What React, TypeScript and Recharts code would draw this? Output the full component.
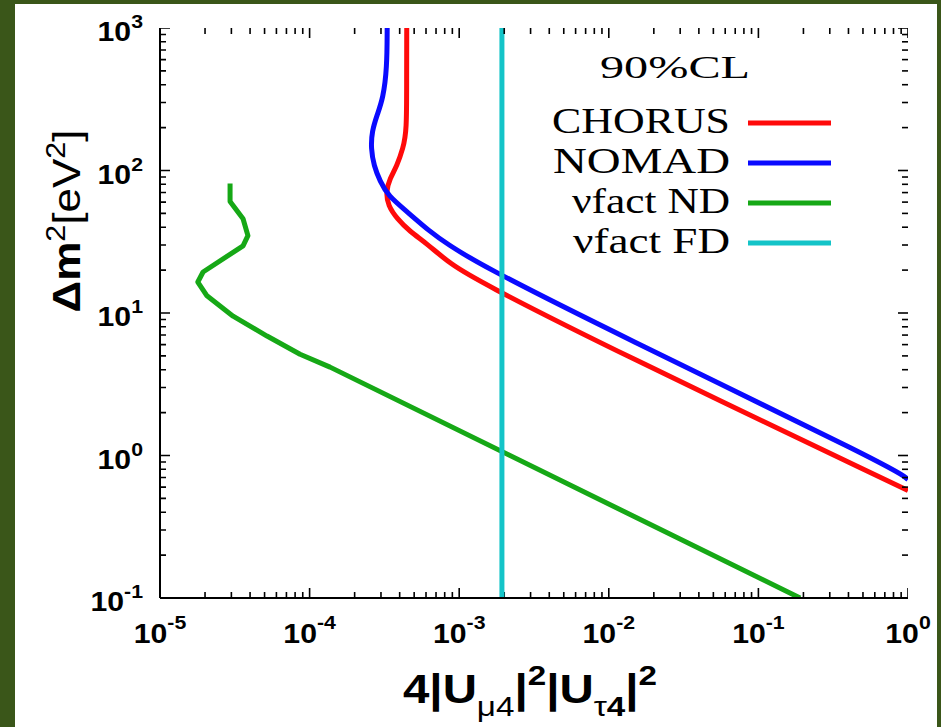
import React from 'react';
import { ComposedChart, Line, Scatter, XAxis, YAxis, Legend } from 'recharts';

// ---- tick definitions ----
const xMajor = [1e-5, 1e-4, 1e-3, 1e-2, 1e-1, 1];
const xMajorLabels = ['-5', '-4', '-3', '-2', '-1', '0'];
const yMajor = [1e-1, 1, 10, 100, 1000];
const yMajorLabels = ['-1', '0', '1', '2', '3'];
const minorMultipliers = [2, 3, 4, 5, 6, 7, 8, 9];

// ---- series ----
const chorus = [
  { x: 4.46e-4, y: 1000 },
  { x: 4.45e-4, y: 445 },
  { x: 4.46e-4, y: 188 },
  { x: 4.21e-4, y: 143 },
  { x: 3.84e-4, y: 108 },
  { x: 3.44e-4, y: 87.9 },
  { x: 3.24e-4, y: 71.1 },
  { x: 3.34e-4, y: 56.8 },
  { x: 3.84e-4, y: 45.9 },
  { x: 4.69e-4, y: 37.2 },
  { x: 6.1e-4, y: 30.6 },
  { x: 8.69e-4, y: 22.1 },
  { x: 1.38e-3, y: 16.5 },
  { x: 1.0e-2, y: 5.7 },
  { x: 1.0, y: 0.568 },
];

const nomad = [
  { x: 3.3e-4, y: 1000 },
  { x: 3.29e-4, y: 523 },
  { x: 3.1e-4, y: 321 },
  { x: 2.82e-4, y: 244 },
  { x: 2.61e-4, y: 188 },
  { x: 2.57e-4, y: 143 },
  { x: 2.69e-4, y: 108 },
  { x: 2.96e-4, y: 83.8 },
  { x: 3.34e-4, y: 66.7 },
  { x: 4.48e-4, y: 51.4 },
  { x: 6.38e-4, y: 37.2 },
  { x: 8.28e-4, y: 30.6 },
  { x: 1.38e-3, y: 21.8 },
  { x: 1.0e-2, y: 7.6 },
  { x: 0.818, y: 0.81 },
  { x: 1.0, y: 0.678 },
];

const vfactND = [
  { x: 2.94e-5, y: 81 },
  { x: 2.94e-5, y: 60.5 },
  { x: 3.59e-5, y: 45.9 },
  { x: 3.87e-5, y: 34.9 },
  { x: 3.59e-5, y: 29.6 },
  { x: 1.94e-5, y: 19.4 },
  { x: 1.79e-5, y: 16.5 },
  { x: 2.06e-5, y: 13.2 },
  { x: 3.08e-5, y: 9.5 },
  { x: 5.19e-5, y: 6.89 },
  { x: 8.63e-5, y: 5.14 },
  { x: 1.37e-4, y: 4.17 },
  { x: 0.19, y: 0.1 },
];

const vfactFD = [
  { x: 1.93e-3, y: 0.1 },
  { x: 1.93e-3, y: 1000 },
];

const seriesNames = ['CHORUS', 'NOMAD', 'νfact ND', 'νfact FD'];
const seriesColors = ['#ff0a0a', '#0a0aff', '#16a816', '#14c4c8'];

// ---- helpers ----
const buildTicks = (major: number[]) =>
  major.flatMap((d, i) => (i < major.length - 1 ? [d, ...minorMultipliers.map((m) => m * d)] : [d]));
const xTicks = buildTicks(xMajor);
const yTicks = buildTicks(yMajor);
const majorIndex = (arr: number[], v: number) =>
  arr.findIndex((m) => Math.abs(Math.log10(m) - Math.log10(v)) < 1e-6);

const xMin = xMajor[0];
const xMax = xMajor[xMajor.length - 1];
const yMin = yMajor[0];
const yMax = yMajor[yMajor.length - 1];

const MINOR = 6;
const MAJOR = 10;
// plot box: 748 px wide over 5 decades, 570 px tall over 4 decades (used only for tick-mark length)
const PX_PER_DEC_X = 748 / 5;
const PX_PER_DEC_Y = 570 / 4;

// top / right tick marks: anchored on the frame, drawn by a Scatter shape
const topMarks = xTicks.map((v) => ({ x: v, y: yMax, major: majorIndex(xMajor, v) >= 0, dir: 'down' }));
const rightMarks = yTicks.map((v) => ({ x: xMax, y: v, major: majorIndex(yMajor, v) >= 0, dir: 'left' }));

// bottom / left tick marks: drawn as a comb path along the frame
const bottomComb = xTicks.flatMap((v) => {
  const len = majorIndex(xMajor, v) >= 0 ? MAJOR : MINOR;
  const yIn = yMin * Math.pow(10, len / PX_PER_DEC_Y);
  return [
    { x: v, y: yMin },
    { x: v, y: yIn },
    { x: v, y: yMin },
  ];
});
const leftComb = yTicks.flatMap((v) => {
  const len = majorIndex(yMajor, v) >= 0 ? MAJOR : MINOR;
  const xIn = xMin * Math.pow(10, len / PX_PER_DEC_X);
  return [
    { x: xMin, y: v },
    { x: xIn, y: v },
    { x: xMin, y: v },
  ];
});

const SANS = "'Liberation Sans', Arial, sans-serif";
const SERIF = "'Liberation Serif', 'Times New Roman', serif";

const TickMark = (props: any) => {
  const { cx, cy, payload } = props;
  const len = payload.major ? MAJOR : MINOR;
  let x2 = cx;
  let y2 = cy;
  if (payload.dir === 'up') y2 = cy - len;
  if (payload.dir === 'down') y2 = cy + len;
  if (payload.dir === 'right') x2 = cx + len;
  if (payload.dir === 'left') x2 = cx - len;
  return <line x1={cx} y1={cy} x2={x2} y2={y2} stroke="#000" strokeWidth={1.6} />;
};

const BottomTick = (props: any) => {
  const x = Number(props.x);
  const ay = Number(props.y);
  const i = majorIndex(xMajor, props.payload.value);
  if (i < 0) return <g />;
  return (
    <g transform={`translate(${x},${ay + 45}) scale(1.12,1)`}>
      <text textAnchor="middle" fontFamily={SANS} fontWeight="bold" fontSize={27} fill="#000" stroke="none">
        <tspan>10</tspan>
        <tspan fontSize={19} dy={-14}>{xMajorLabels[i]}</tspan>
      </text>
    </g>
  );
};

const LeftTick = (props: any) => {
  const ax = Number(props.x);
  const y = Number(props.y);
  const i = majorIndex(yMajor, props.payload.value);
  if (i < 0) return <g />;
  return (
    <g transform={`translate(${ax - 17},${y + 13}) scale(1.12,1)`}>
      <text textAnchor="end" fontFamily={SANS} fontWeight="bold" fontSize={27} fill="#000" stroke="none">
        <tspan>10</tspan>
        <tspan fontSize={19} dy={-13}>{yMajorLabels[i]}</tspan>
      </text>
    </g>
  );
};

const XTitle = () => (
  <text x={403} y={703} textLength={254} lengthAdjust="spacingAndGlyphs" fontFamily={SANS} fontSize={40} fill="#000">
    <tspan fontWeight="bold">4|U</tspan>
    <tspan fontSize={28} dy={13}>μ4</tspan>
    <tspan fontWeight="bold" dy={-13}>|</tspan>
    <tspan fontWeight="bold" fontSize={28} dy={-18}>2</tspan>
    <tspan fontWeight="bold" dy={18}>|U</tspan>
    <tspan fontSize={28} dy={13}>τ</tspan>
    <tspan fontSize={28} fontWeight="bold">4</tspan>
    <tspan fontWeight="bold" dy={-13}>|</tspan>
    <tspan fontWeight="bold" fontSize={28} dy={-18}>2</tspan>
  </text>
);

const YTitle = () => (
  <text
    transform="translate(80,221) rotate(-90)"
    textAnchor="middle"
    textLength={183}
    lengthAdjust="spacingAndGlyphs"
    fontFamily={SANS}
    fontSize={39}
    fill="#000"
  >
    <tspan fontWeight="bold">Δm</tspan>
    <tspan fontSize={27} dy={-15}>2</tspan>
    <tspan dy={15}>[eV</tspan>
    <tspan fontSize={27} dy={-15}>2</tspan>
    <tspan dy={15}>]</tspan>
  </text>
);

const LX = 540;
const LY = 40;
const legendTextX = [552, 553, 572, 573];
const legendTextW = [178, 177, 158, 157];
const legendBase = [133, 173, 213, 253];

const LegendContent = () => (
  <svg width={330} height={260} style={{ overflow: 'visible', display: 'block' }}>
    <text x={600 - LX} y={78 - LY} textLength={150} lengthAdjust="spacingAndGlyphs" fontFamily={SERIF} fontSize={32} fill="#000">
      90%CL
    </text>
    {seriesNames.map((n, i) => (
      <g key={n}>
        <text
          x={legendTextX[i] - LX}
          y={legendBase[i] - LY}
          textLength={legendTextW[i]}
          lengthAdjust="spacingAndGlyphs"
          fontFamily={SERIF}
          fontSize={35}
          fill="#000"
        >
          {n}
        </text>
        <line x1={748 - LX} x2={831 - LX} y1={legendBase[i] - 10 - LY} y2={legendBase[i] - 10 - LY} stroke={seriesColors[i]} strokeWidth={5} />
      </g>
    ))}
  </svg>
);

const axisStyle = { stroke: '#000', strokeWidth: 2 };

export default function App() {
  return (
    <div style={{ position: 'absolute', left: 0, top: 0, width: 941, height: 727, background: '#3a5619' }}>
      <div style={{ position: 'absolute', left: 15, top: 4, width: 922, height: 723, background: '#ffffff' }} />
      <div style={{ position: 'absolute', left: 0, top: 0 }}>
        <ComposedChart width={941} height={727} margin={{ top: 28, right: 33, bottom: 0, left: 0 }}>
          <XAxis
            xAxisId="b"
            type="number"
            dataKey="x"
            scale="log"
            domain={[xMin, xMax]}
            allowDataOverflow
            ticks={xTicks}
            interval={0}
            tick={<BottomTick />}
            tickLine={false}
            tickSize={0}
            tickMargin={0}
            height={129}
            axisLine={axisStyle}
            label={<XTitle />}
          />
          <XAxis
            xAxisId="t"
            orientation="top"
            type="number"
            dataKey="x"
            scale="log"
            domain={[xMin, xMax]}
            allowDataOverflow
            ticks={xMajor}
            tick={false}
            tickLine={false}
            height={0}
            axisLine={axisStyle}
          />
          <YAxis
            yAxisId="l"
            type="number"
            dataKey="y"
            scale="log"
            domain={[yMin, yMax]}
            allowDataOverflow
            ticks={yTicks}
            interval={0}
            tick={<LeftTick />}
            tickLine={false}
            tickSize={0}
            tickMargin={0}
            width={160}
            axisLine={axisStyle}
            label={<YTitle />}
          />
          <YAxis
            yAxisId="r"
            orientation="right"
            type="number"
            dataKey="y"
            scale="log"
            domain={[yMin, yMax]}
            allowDataOverflow
            ticks={yMajor}
            tick={false}
            tickLine={false}
            width={0}
            axisLine={axisStyle}
          />
          <Scatter xAxisId="b" yAxisId="l" data={topMarks} dataKey="y" shape={<TickMark />} legendType="none" isAnimationActive={false} />
          <Scatter xAxisId="b" yAxisId="l" data={rightMarks} dataKey="y" shape={<TickMark />} legendType="none" isAnimationActive={false} />
          <Line xAxisId="b" yAxisId="l" data={bottomComb} dataKey="y" stroke="#000" strokeWidth={1.6} dot={false} activeDot={false} type="linear" legendType="none" isAnimationActive={false} />
          <Line xAxisId="b" yAxisId="l" data={leftComb} dataKey="y" stroke="#000" strokeWidth={1.6} dot={false} activeDot={false} type="linear" legendType="none" isAnimationActive={false} />
          <Line xAxisId="b" yAxisId="l" data={vfactND} dataKey="y" name={seriesNames[2]} stroke={seriesColors[2]} strokeWidth={5} dot={false} type="linear" strokeLinejoin="round" isAnimationActive={false} />
          <Line xAxisId="b" yAxisId="l" data={chorus} dataKey="y" name={seriesNames[0]} stroke={seriesColors[0]} strokeWidth={5} dot={false} type="basis" isAnimationActive={false} />
          <Line xAxisId="b" yAxisId="l" data={nomad} dataKey="y" name={seriesNames[1]} stroke={seriesColors[1]} strokeWidth={5} dot={false} type="basis" isAnimationActive={false} />
          <Line xAxisId="b" yAxisId="l" data={vfactFD} dataKey="y" name={seriesNames[3]} stroke={seriesColors[3]} strokeWidth={5} dot={false} type="linear" isAnimationActive={false} />
          <Legend
            layout="vertical"
            align="center"
            verticalAlign="middle"
            content={<LegendContent />}
            wrapperStyle={{ left: LX, top: LY, width: 330, height: 260 }}
          />
        </ComposedChart>
      </div>
    </div>
  );
}
